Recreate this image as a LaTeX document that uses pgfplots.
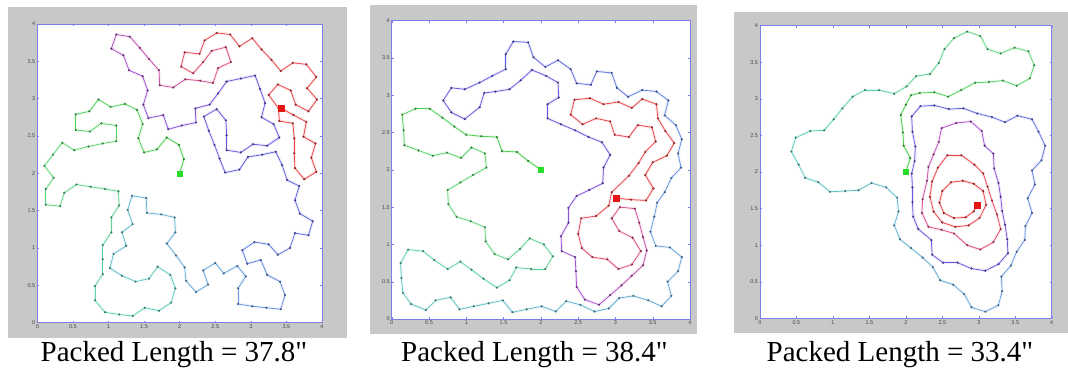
\documentclass[border=0pt]{standalone}
\usepackage{pgfplots}
\pgfplotsset{compat=1.18}
\usepackage{pgfplotstable}
\usepackage{fontspec}
\setmainfont{Liberation Serif}
\newfontfamily\capfont{Liberation Serif}
\newfontfamily\tickfont{Liberation Sans}
\definecolor{bggray}{RGB}{200,200,200}
\definecolor{frameblue}{RGB}{125,125,235}
\definecolor{ticklab}{RGB}{70,70,70}

\pgfplotstableread{
x y
2.00 2.00
2.06 2.19
1.99 2.38
1.82 2.48
1.68 2.32
1.50 2.28
1.42 2.47
1.48 2.66
1.40 2.85
1.23 2.93
1.03 2.89
0.86 2.99
0.73 2.83
0.54 2.79
0.54 2.58
0.74 2.56
0.90 2.67
1.11 2.64
1.11 2.43
0.92 2.40
0.72 2.36
0.52 2.31
0.35 2.41
0.22 2.25
0.10 2.10
0.23 1.94
0.12 1.79
0.12 1.58
0.32 1.56
0.38 1.74
0.55 1.85
0.75 1.82
0.95 1.79
1.14 1.76
1.15 1.57
1.04 1.41
1.04 1.21
0.92 1.04
0.92 0.85
0.92 0.65
0.81 0.49
0.81 0.30
0.95 0.14
1.15 0.11
1.34 0.09
1.51 0.20
1.71 0.16
1.88 0.27
1.94 0.46
1.87 0.64
1.69 0.75
1.57 0.59
1.38 0.55
1.19 0.63
1.02 0.73
1.07 0.92
1.25 1.03
1.19 1.21
1.34 1.32
1.27 1.51
1.33 1.70
1.53 1.67
1.54 1.47
1.74 1.45
1.93 1.41
1.94 1.21
1.82 1.06
1.95 0.90
2.07 0.74
2.09 0.56
2.23 0.41
2.40 0.51
2.33 0.70
2.50 0.80
2.62 0.66
2.81 0.76
2.93 0.62
2.82 0.46
2.82 0.25
3.02 0.22
3.22 0.20
3.42 0.18
3.48 0.37
3.41 0.55
3.23 0.64
3.14 0.84
2.95 0.79
2.88 0.97
3.05 1.08
3.25 1.05
3.38 0.91
3.55 1.00
3.62 1.20
3.81 1.17
3.87 1.36
3.69 1.46
3.62 1.64
3.68 1.83
3.51 1.91
3.44 2.11
3.35 2.29
3.16 2.25
2.96 2.22
2.84 2.05
2.64 2.01
2.56 2.20
2.49 2.38
2.41 2.57
2.34 2.76
2.52 2.86
2.65 2.71
2.66 2.51
2.66 2.31
2.86 2.28
3.03 2.39
3.23 2.37
3.40 2.48
3.32 2.66
3.15 2.75
3.20 2.94
3.13 3.13
3.06 3.31
2.86 3.27
2.66 3.23
2.54 3.07
2.42 2.92
2.22 2.87
2.23 2.68
2.03 2.64
1.84 2.59
1.77 2.78
1.56 2.74
1.49 2.92
1.55 3.11
1.48 3.30
1.29 3.38
1.21 3.58
1.04 3.67
1.11 3.86
1.30 3.83
1.44 3.68
1.57 3.53
1.71 3.38
1.72 3.18
1.91 3.15
2.08 3.26
2.29 3.24
2.47 3.21
2.54 3.41
2.72 3.49
2.65 3.69
2.45 3.64
2.33 3.49
2.19 3.34
2.02 3.43
2.07 3.62
2.28 3.60
2.35 3.78
2.52 3.88
2.71 3.86
2.84 3.70
3.02 3.81
3.15 3.66
3.29 3.52
3.42 3.37
3.59 3.48
3.78 3.46
3.92 3.29
3.79 3.14
3.93 2.99
3.81 2.83
3.63 2.92
3.56 3.11
3.38 3.19
3.25 3.05
3.39 2.87
3.40 2.70
3.59 2.67
3.61 2.47
3.61 2.27
3.62 2.07
3.75 1.92
3.92 2.02
3.85 2.21
3.91 2.40
3.74 2.49
3.78 2.69
3.60 2.78
3.43 2.87
}\pathA

\pgfplotstableread{
x y
2.00 2.00
1.83 2.12
1.68 2.24
1.48 2.25
1.41 2.44
1.20 2.45
1.00 2.47
0.84 2.58
0.68 2.70
0.51 2.82
0.32 2.82
0.14 2.74
0.16 2.53
0.17 2.33
0.36 2.26
0.55 2.19
0.74 2.23
0.93 2.16
1.07 2.30
1.25 2.22
1.27 2.03
1.09 1.93
0.92 1.83
0.75 1.73
0.76 1.54
0.87 1.37
1.06 1.31
1.25 1.23
1.26 1.04
1.38 0.87
1.56 0.80
1.72 0.94
1.85 1.08
2.04 1.00
2.16 0.84
2.06 0.67
1.87 0.67
1.67 0.69
1.58 0.52
1.41 0.42
1.23 0.54
1.07 0.66
0.92 0.77
0.75 0.67
0.57 0.79
0.42 0.91
0.22 0.93
0.12 0.75
0.13 0.55
0.15 0.35
0.26 0.20
0.46 0.12
0.59 0.25
0.79 0.29
0.91 0.13
1.10 0.17
1.30 0.21
1.49 0.25
1.62 0.09
1.81 0.13
2.01 0.17
2.20 0.10
2.34 0.24
2.53 0.19
2.72 0.10
2.91 0.14
3.05 0.28
3.24 0.31
3.44 0.25
3.62 0.17
3.75 0.31
3.70 0.50
3.84 0.64
3.89 0.83
3.73 0.96
3.54 0.98
3.47 1.17
3.52 1.37
3.56 1.56
3.66 1.70
3.75 1.89
3.88 2.03
3.84 2.22
3.89 2.41
3.81 2.60
3.66 2.73
3.71 2.93
3.55 3.05
3.36 3.07
3.17 2.98
3.02 3.10
2.95 3.30
2.75 3.32
2.67 3.14
2.48 3.16
2.40 3.35
2.23 3.47
2.06 3.38
1.90 3.51
1.83 3.71
1.63 3.72
1.53 3.55
1.53 3.35
1.35 3.26
1.18 3.17
0.98 3.08
0.80 3.10
0.69 2.93
0.80 2.77
0.98 2.68
1.18 2.84
1.24 3.03
1.39 3.05
1.58 3.08
1.73 3.20
1.88 3.34
2.07 3.26
2.23 3.17
2.24 2.97
2.09 2.88
2.09 2.69
2.27 2.61
2.46 2.53
2.64 2.44
2.82 2.37
2.93 2.20
2.84 2.03
2.83 1.82
2.65 1.73
2.48 1.65
2.37 1.49
2.37 1.29
2.27 1.11
2.28 0.91
2.46 0.83
2.47 0.64
2.48 0.43
2.59 0.26
2.78 0.19
2.93 0.32
3.08 0.45
3.22 0.58
3.37 0.72
3.42 0.92
3.37 1.10
3.32 1.29
3.26 1.48
3.06 1.50
2.95 1.35
3.05 1.18
3.23 1.09
3.34 0.91
3.22 0.73
3.04 0.67
2.89 0.80
2.69 0.83
2.55 0.95
2.50 1.14
2.54 1.35
2.74 1.38
2.91 1.52
2.95 1.70
3.18 1.92
3.31 2.09
3.40 2.24
3.54 2.38
3.49 2.57
3.30 2.60
3.18 2.44
2.99 2.47
2.93 2.65
2.74 2.69
2.56 2.61
2.40 2.74
2.45 2.94
2.66 2.96
2.84 2.88
3.04 2.91
3.22 2.83
3.36 2.95
3.55 2.88
3.57 2.69
3.67 2.52
3.79 2.36
3.69 2.19
3.50 2.10
3.40 1.93
3.51 1.75
3.41 1.59
3.21 1.60
3.01 1.62
}\pathB

\pgfplotstableread{
x y
2.00 2.00
2.06 2.19
1.97 2.36
1.96 2.54
1.93 2.78
2.00 2.92
2.07 3.05
2.19 3.08
2.39 3.09
2.58 3.03
2.76 3.12
2.95 3.22
3.14 3.23
3.33 3.25
3.52 3.18
3.70 3.28
3.76 3.46
3.68 3.65
3.49 3.70
3.30 3.62
3.12 3.68
3.02 3.86
2.84 3.92
2.66 3.83
2.53 3.68
2.45 3.49
2.33 3.34
2.14 3.31
2.01 3.17
1.84 3.07
1.63 3.12
1.44 3.12
1.27 3.03
1.13 2.87
1.01 2.72
0.88 2.57
0.69 2.56
0.49 2.47
0.43 2.28
0.53 2.10
0.62 1.92
0.80 1.86
0.96 1.73
1.17 1.74
1.35 1.75
1.53 1.85
1.73 1.79
1.88 1.65
1.90 1.46
1.84 1.27
1.92 1.08
2.07 0.96
2.23 0.83
2.37 0.70
2.47 0.52
2.65 0.46
2.80 0.33
2.90 0.15
3.09 0.09
3.27 0.18
3.32 0.37
3.31 0.57
3.44 0.72
3.52 0.91
3.63 1.07
3.64 1.26
3.73 1.44
3.67 1.64
3.77 1.83
3.73 2.02
3.86 2.16
3.91 2.36
3.82 2.55
3.73 2.72
3.53 2.77
3.36 2.68
3.18 2.75
2.98 2.80
2.79 2.87
2.59 2.86
2.39 2.91
2.20 2.90
2.08 2.76
2.09 2.55
2.13 2.35
2.12 2.15
2.08 1.98
2.09 1.79
2.09 1.59
2.10 1.39
2.17 1.22
2.35 1.07
2.36 0.87
2.51 0.76
2.71 0.76
2.90 0.68
3.09 0.65
3.27 0.74
3.40 0.89
3.39 1.08
3.36 1.28
3.32 1.47
3.30 1.66
3.27 1.85
3.21 2.05
3.20 2.25
3.08 2.36
3.04 2.56
2.89 2.69
2.69 2.67
2.49 2.60
2.45 2.41
2.38 2.24
2.31 2.07
2.29 1.88
2.23 1.63
2.22 1.44
2.31 1.25
2.49 1.21
2.66 1.16
2.84 1.00
3.02 0.94
3.20 1.04
3.30 1.22
3.25 1.42
3.18 1.61
3.12 1.80
3.06 1.98
2.94 2.10
2.76 2.23
2.57 2.23
2.44 2.06
2.36 1.87
2.33 1.66
2.38 1.46
2.50 1.31
2.68 1.25
2.86 1.27
3.01 1.37
3.10 1.55
3.06 1.74
2.93 1.84
2.78 1.88
2.62 1.86
2.50 1.74
2.46 1.58
2.52 1.44
2.66 1.37
2.82 1.38
2.93 1.46
2.98 1.55
}\pathC

\pgfplotsset{
  colormap={trail}{rgb255(0pt)=(70,205,70) rgb255(12pt)=(95,215,115) rgb255(24pt)=(95,208,185) rgb255(40pt)=(105,160,225) rgb255(52pt)=(95,95,225) rgb255(66pt)=(115,80,220) rgb255(72pt)=(170,80,210) rgb255(78pt)=(220,80,140) rgb255(84pt)=(232,70,80) rgb255(100pt)=(235,60,60)},
  panel/.style={
    scale only axis, anchor=south west,
    xmin=0, xmax=4, ymin=0, ymax=4,
    axis line style={frameblue, line width=0.6pt},
    xtick={0,0.5,1,1.5,2,2.5,3,3.5,4},
    ytick={0,0.5,1,1.5,2,2.5,3,3.5,4},
    xticklabels={0,0.5,1,1.5,2,2.5,3,3.5,4},
    yticklabels={0,0.5,1,1.5,2,2.5,3,3.5,4},
    tick align=inside, major tick length=2pt,
    tick style={frameblue, line width=0.4pt},
    ticklabel style={font=\tickfont\fontsize{5.5}{6}\selectfont, text=ticklab},
    xticklabel style={yshift=1.5pt},
    yticklabel style={xshift=1.5pt},
    colormap name=trail,
    axis background/.style={fill=white},
  },
}
\newcommand{\trail}[1]{%
  \addplot[mesh, point meta=\coordindex, line width=3pt, opacity=0.10] table {#1};
  \addplot[mesh, point meta=\coordindex, line width=0.75pt] table {#1};
  \addplot[scatter, only marks, mark=*, mark size=0.85pt, point meta=\coordindex,
    scatter/use mapped color={draw=mapped color!60!black, fill=mapped color!60!black}] table {#1};
}

\begin{document}
\begin{tikzpicture}
\path[use as bounding box] (0,0) rectangle (1068pt,369pt);
\fill[bggray] (7.5pt,30.7pt) rectangle (346.5pt,362.3pt);
\fill[bggray] (370pt,35pt) rectangle (697pt,364pt);
\fill[bggray] (734pt,36pt) rectangle (1068pt,357.3pt);

\begin{axis}[panel, at={(37.3pt,46.3pt)}, width=284.7pt, height=298.7pt]
\trail{\pathA}
\addplot[only marks, mark=square*, mark size=2.6pt, color={rgb,255:red,40;green,220;blue,40}] coordinates {(2,2)};
\addplot[only marks, mark=square*, mark size=2.8pt, color={rgb,255:red,230;green,20;blue,20}] coordinates {(3.43,2.87)};
\end{axis}

\begin{axis}[panel, at={(391.7pt,50pt)}, width=298.3pt, height=298.3pt]
\trail{\pathB}
\addplot[only marks, mark=square*, mark size=2.6pt, color={rgb,255:red,40;green,220;blue,40}] coordinates {(2,2)};
\addplot[only marks, mark=square*, mark size=2.8pt, color={rgb,255:red,230;green,20;blue,20}] coordinates {(3.01,1.62)};
\end{axis}

\begin{axis}[panel, at={(760pt,50.7pt)}, width=291.7pt, height=292.6pt]
\trail{\pathC}
\addplot[only marks, mark=square*, mark size=2.6pt, color={rgb,255:red,40;green,220;blue,40}] coordinates {(2,2)};
\addplot[only marks, mark=square*, mark size=2.8pt, color={rgb,255:red,230;green,20;blue,20}] coordinates {(2.98,1.55)};
\end{axis}

\node[font=\capfont\fontsize{29}{32}\selectfont, anchor=base] at (174pt,7.3pt) {Packed Length = 37.8"};
\node[font=\capfont\fontsize{29}{32}\selectfont, anchor=base] at (534.5pt,7.3pt) {Packed Length = 38.4"};
\node[font=\capfont\fontsize{29}{32}\selectfont, anchor=base] at (900pt,7.3pt) {Packed Length = 33.4"};
\end{tikzpicture}
\end{document}
